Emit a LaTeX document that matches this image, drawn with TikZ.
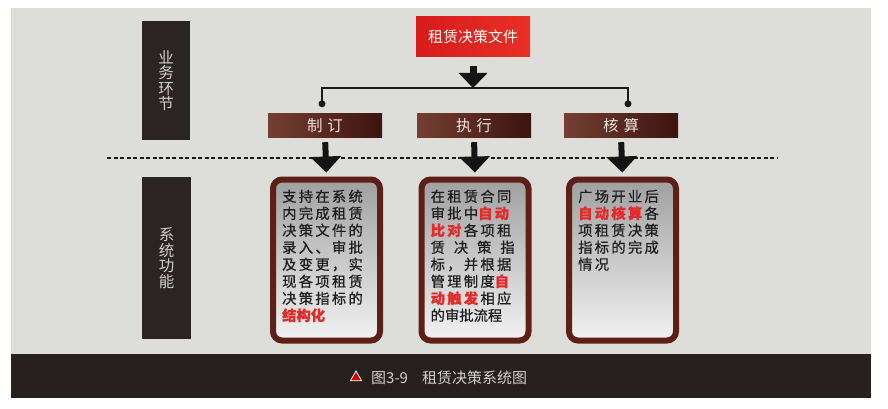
\documentclass[tikz,border=0pt]{standalone}
\usepackage{fontspec}
\setmainfont{Noto Sans CJK SC}
\newfontfamily\spaced[LetterSpace=16, FakeBold=0.8]{Noto Sans CJK SC}
\newfontfamily\plainbold[FakeBold=0.8]{Noto Sans CJK SC}
\usetikzlibrary{arrows.meta,shapes.geometric}

\definecolor{paper}{RGB}{221,222,217}
\definecolor{labeldark}{RGB}{42,37,35}
\definecolor{labeltext}{RGB}{208,208,206}
\definecolor{filered}{RGB}{214,28,26}
\definecolor{filered2}{RGB}{232,48,38}
\definecolor{stagebrown}{RGB}{118,62,50}
\definecolor{stagedark}{RGB}{58,20,14}
\definecolor{frame}{RGB}{92,32,22}
\definecolor{hlred}{RGB}{226,44,44}
\definecolor{capbar}{RGB}{38,32,30}

\newcommand{\hl}[1]{\textcolor{hlred}{\textbf{#1}}}
\newcommand{\tight}[1]{{\plainbold #1}}

\begin{document}
\begin{tikzpicture}[x=1pt,y=-1pt]

% definitions
\tikzstyle{labelbox} = [rectangle, fill=labeldark, text=labeltext, inner sep=0pt, align=center, font=\fontsize{15.5}{15.5}\selectfont]
\tikzstyle{filebox} = [rectangle, left color=filered, right color=filered2, text=white, minimum width=114pt, minimum height=40pt, inner sep=0pt, font=\fontsize{15}{18}\selectfont]
\tikzstyle{stagebox} = [rectangle, left color=stagebrown, right color=stagedark, text={rgb,255:red,238;green,228;blue,222}, minimum width=114pt, minimum height=23pt, inner sep=0pt, font=\fontsize{15.5}{18}\selectfont]
\tikzstyle{funcbox} = [rectangle, rounded corners=9pt, draw=frame, line width=6pt, top color={rgb,255:red,160;green,160;blue,160}, bottom color={rgb,255:red,242;green,242;blue,242}, minimum width=107pt, minimum height=161pt, inner sep=0pt]
\tikzstyle{functext} = [anchor=north west, inner sep=0pt, text width=90pt, align=left, text=black!88, font=\spaced\fontsize{14.3}{17}\selectfont]
\tikzstyle{bar} = [line width=1.8pt, black!90]
\tikzstyle{dot} = [circle, fill=black!90, minimum size=7pt, inner sep=0pt]
\tikzstyle{bigarrow} = [line width=7pt, black!92, -{Triangle[width=28pt,length=15pt]}]
\tikzstyle{arrow} = [line width=6pt, black!92, -{Triangle[width=30pt,length=16pt]}]

% paper
\useasboundingbox (0,0) rectangle (888,409);
\fill[white] (0,0) rectangle (888,409);
\fill[paper] (11,8) rectangle (871,398);

% the graph
\node (biz) [labelbox, minimum width=48pt, minimum height=119pt] at (166,80.5) {业\\务\\环\\节};
\node (sys) [labelbox, minimum width=49pt, minimum height=162pt] at (166.5,258) {系\\统\\功\\能};

\node (file) [filebox] at (473,37) {租赁决策文件};

\node (draft) [stagebox] at (325,125.5) {制\hspace{5pt}订};
\node (run) [stagebox] at (474,125.5) {执\hspace{5pt}行};
\node (audit) [stagebox] at (621,125.5) {核\hspace{5pt}算};

\node (f1) [funcbox] at (326.5,260) {};
\node (f2) [funcbox] at (475,260) {};
\node (f3) [funcbox] at (622.5,260) {};

\node (t1) [functext] at ([xshift=12pt,yshift=-13pt]f1.north west) {支持在系统\\内完成租赁\\决策文件的\\录入、审批\\及变更，实\\现各项租赁\\决策指标的\\\tight{\hl{结构化}}};
\node (t2) [functext] at ([xshift=12pt,yshift=-13pt]f2.north west) {在租赁合同\\审批中\hl{自动}\\\hl{比对}各项租\\\makebox[84pt][s]{赁\hfil 决\hfil 策\hfil 指}\\标，并根据\\管理制度\hl{自}\\\hl{动触发}相应\\\tight{的审批流程}};
\node (t3) [functext] at ([xshift=12pt,yshift=-13pt]f3.north west) {广场开业后\\\hl{自动核算}各\\项租赁决策\\指标的完成\\情况};

% split line
\coordinate (junction) at (file.south |- 0,88);
\coordinate (dotL) at ([xshift=-3pt,yshift=10pt]draft.north);
\coordinate (dotR) at ([xshift=7pt,yshift=10pt]audit.north);
\draw [bar] (dotL) |- (junction) -| (dotR);
\node [dot] at (dotL) {};
\node [dot] at (dotR) {};

\draw [bigarrow, shorten <=9pt] (file.south) -- (junction);

\draw [arrow, shorten <=5pt, shorten >=4pt] (draft.south) -- (f1.north);
\draw [arrow, shorten <=5pt, shorten >=4pt] (run.south) -- (f2.north);
\draw [arrow, shorten <=5pt, shorten >=4pt] (audit.south) -- (f3.north);

% separator
\coordinate (sepL) at (107,158);
\coordinate (sepR) at (777,158);
\draw [line width=1.3pt, black!90, dash pattern=on 4pt off 2.5pt] (sepL) -- (sepR);

% caption
\fill[capbar] (11,354) rectangle (871,398);
\node (tri) [regular polygon, regular polygon sides=3, fill=red!85!black, draw=white, line width=0.8pt, minimum size=13pt, inner sep=0pt] at (356,377.5) {};
\node (cap) [anchor=west, inner sep=0pt, text=labeltext, font=\fontsize{15}{16}\selectfont] at (371,378) {图3-9\hspace{14pt}租赁决策系统图};

\end{tikzpicture}
\end{document}
